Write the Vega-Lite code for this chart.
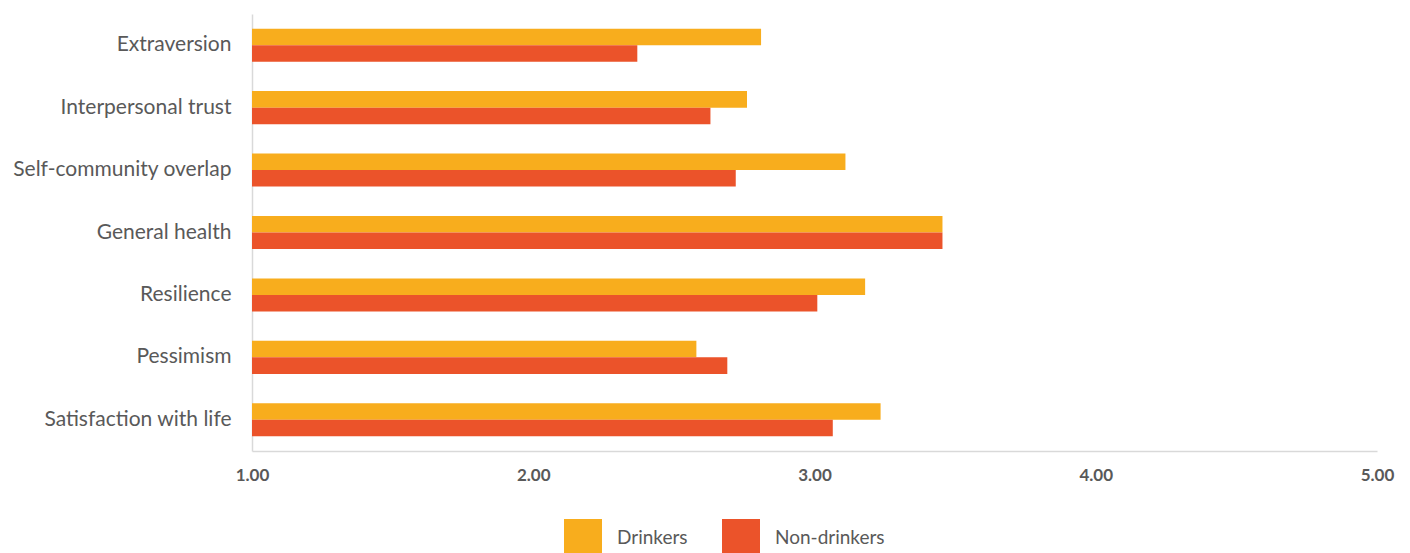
{
  "$schema": "https://vega.github.io/schema/vega-lite/v6.json",
  "width": 1125,
  "height": 437,
  "autosize": {"type": "none"},
  "padding": {"left": 252, "top": 14, "right": 33, "bottom": 102},
  "background": "white",
  "config": {
    "font": "Lato",
    "view": {"stroke": null}
  },
  "data": {
    "values": [
      {"measure": "Extraversion", "group": "Drinkers", "value": 2.81},
      {"measure": "Extraversion", "group": "Non-drinkers", "value": 2.37},
      {"measure": "Interpersonal trust", "group": "Drinkers", "value": 2.76},
      {"measure": "Interpersonal trust", "group": "Non-drinkers", "value": 2.63},
      {"measure": "Self-community overlap", "group": "Drinkers", "value": 3.11},
      {"measure": "Self-community overlap", "group": "Non-drinkers", "value": 2.72},
      {"measure": "General health", "group": "Drinkers", "value": 3.455},
      {"measure": "General health", "group": "Non-drinkers", "value": 3.455},
      {"measure": "Resilience", "group": "Drinkers", "value": 3.18},
      {"measure": "Resilience", "group": "Non-drinkers", "value": 3.01},
      {"measure": "Pessimism", "group": "Drinkers", "value": 2.58},
      {"measure": "Pessimism", "group": "Non-drinkers", "value": 2.69},
      {"measure": "Satisfaction with life", "group": "Drinkers", "value": 3.235},
      {"measure": "Satisfaction with life", "group": "Non-drinkers", "value": 3.065}
    ]
  },
  "mark": {"type": "bar", "x": 0},
  "encoding": {
    "y": {
      "field": "measure",
      "type": "nominal",
      "sort": ["Extraversion", "Interpersonal trust", "Self-community overlap", "General health", "Resilience", "Pessimism", "Satisfaction with life"],
      "scale": {"paddingInner": 0.47, "paddingOuter": 0.235},
      "axis": {
        "title": null,
        "ticks": false,
        "domain": true,
        "domainColor": "#d9d9d9",
        "domainWidth": 1.5,
        "labelFont": "Lato",
        "labelFontSize": 21,
        "labelColor": "#595959",
        "labelPadding": 21,
        "labelLimit": 400
      }
    },
    "yOffset": {
      "field": "group",
      "type": "nominal",
      "sort": ["Drinkers", "Non-drinkers"],
      "scale": {"paddingInner": 0, "paddingOuter": 0}
    },
    "x": {
      "field": "value",
      "type": "quantitative",
      "scale": {"domain": [1, 5], "zero": false, "nice": false},
      "axis": {
        "title": null,
        "values": [1, 2, 3, 4, 5],
        "format": ".2f",
        "grid": false,
        "ticks": false,
        "domainColor": "#d9d9d9",
        "domainWidth": 1.5,
        "labelFont": "Lato",
        "labelFontSize": 17,
        "labelFontWeight": "bold",
        "labelColor": "#595959",
        "labelPadding": 16,
        "labelFlush": false
      }
    },
    "x2": {"datum": 1},
    "color": {
      "field": "group",
      "type": "nominal",
      "sort": ["Drinkers", "Non-drinkers"],
      "scale": {"domain": ["Drinkers", "Non-drinkers"], "range": ["#F8AD1D", "#EB532A"]},
      "legend": {
        "title": null,
        "orient": "none",
        "direction": "horizontal",
        "legendX": 312,
        "legendY": 505,
        "symbolType": "square",
        "symbolSize": 1444,
        "symbolStrokeWidth": 0,
        "labelFont": "Lato",
        "labelFontSize": 19,
        "labelColor": "#595959",
        "labelOffset": 15,
        "columnPadding": 34
      }
    }
  }
}
